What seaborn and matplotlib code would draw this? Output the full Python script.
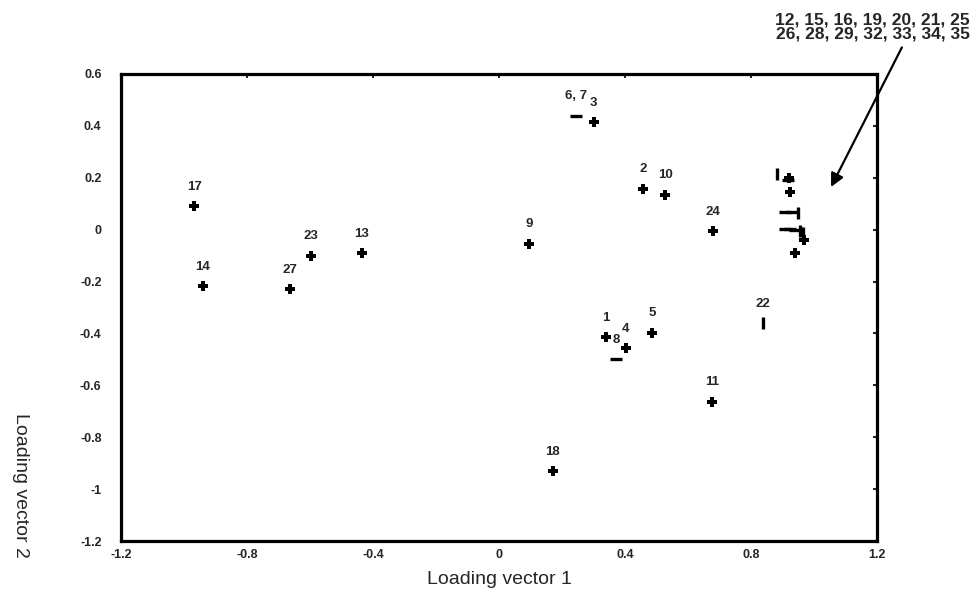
import matplotlib
matplotlib.use('Agg')
import matplotlib.pyplot as plt
import seaborn as sns
import pandas as pd

# Points avec étiquette
point_labels = ['1', '2', '3', '4', '5', '6, 7', '8', '9', '10', '11',
                '13', '14', '17', '18', '22', '23', '24', '27']
point_x = [0.34, 0.457, 0.30, 0.403, 0.486, 0.245, 0.371, 0.095, 0.527, 0.676,
           -0.435, -0.94, -0.968, 0.171, 0.838, -0.597, 0.68, -0.663]
point_y = [-0.415, 0.157, 0.415, -0.456, -0.398, 0.44, -0.50, -0.055, 0.134, -0.664,
           -0.09, -0.217, 0.091, -0.93, -0.36, -0.10, -0.005, -0.229]

# Groupe de points sans étiquette (à droite)
cluster_names = ['12, 15, 16, 19, 20, 21, 25', '26, 28, 29, 32, 33, 34, 35']
cluster_x = [0.882, 0.918, 0.924, 0.908, 0.949, 0.908, 0.94, 0.965, 0.968, 0.94,
             0.92, 0.93, 0.925, 0.955]
cluster_y = [0.214, 0.19, 0.145, 0.068, 0.064, 0.003, 0.0, -0.013, -0.04, -0.09,
             0.20, 0.07, 0.002, -0.005]

xtick_vals = [-1.2, -0.8, -0.4, 0, 0.4, 0.8, 1.2]
ytick_vals = [0.6, 0.4, 0.2, 0, -0.2, -0.4, -0.6, -0.8, -1, -1.2]

# Styles des marqueurs (rendu du scan)
label_shape = {'6, 7': '_', '8': '_', '22': '|'}
cluster_shape = ['|', '_', 'P', '_', '|', '_', '_', '|', 'P', 'P', 'P', '_', '_', '|']

sns.set_style('white')
plt.rcParams['font.family'] = ['Liberation Sans', 'DejaVu Sans']

df = pd.DataFrame({'x': point_x + cluster_x,
                   'y': point_y + cluster_y,
                   'shape': [label_shape.get(l, 'P') for l in point_labels] + cluster_shape})

fig = plt.figure(figsize=(9.77, 6.07), dpi=100)
ax = fig.add_axes([121 / 977, 1 - 541 / 607, 756 / 977, 467 / 607])

for shape, grp in df.groupby('shape'):
    if shape == 'P':
        sns.scatterplot(data=grp, x='x', y='y', marker='P', s=55, color='black',
                        linewidth=0, ax=ax)
    else:
        sns.scatterplot(data=grp, x='x', y='y', marker=shape, s=70, color='black',
                        linewidth=2.4, ax=ax)

for lab, px, py in zip(point_labels, point_x, point_y):
    ax.annotate(lab, (px, py), xytext=(0, 14), textcoords='offset points',
                ha='center', va='center', fontsize=9.5, fontweight='bold')

ax.set_xlim(-1.2, 1.2)
ax.set_ylim(-1.2, 0.6)
ax.set_xticks(xtick_vals)
ax.set_xticklabels([f'{v:g}' for v in xtick_vals])
ax.set_yticks(ytick_vals)
ax.set_yticklabels([f'{v:g}' for v in ytick_vals])
ax.tick_params(direction='in', top=True, right=True, length=3, width=1.5,
               labelsize=9)
ax.tick_params(axis='y', pad=14)
ax.tick_params(axis='x', pad=6)
for t in ax.get_xticklabels() + ax.get_yticklabels():
    t.set_fontweight('bold')
for sp in ax.spines.values():
    sp.set_linewidth(2.3)
    sp.set_color('black')
ax.set_xlabel('')
ax.set_ylabel('')

fig.text(499 / 977, 1 - 580 / 607, 'Loading vector 1', ha='center', va='center',
         fontsize=14)
fig.text(20 / 977, 1 - 485 / 607, 'Loading vector 2', ha='center', va='center',
         fontsize=14, rotation=270)

# Texte et flèche du groupe de droite
fig.text(970 / 977, 1 - 27 / 607, '\n'.join(cluster_names), ha='right', va='center',
         multialignment='right', linespacing=0.85, fontsize=12.5, fontweight='bold')
ax.annotate('', xy=(1.05, 0.155), xytext=(1.283, 0.712),
            arrowprops=dict(arrowstyle='-|>', color='black', lw=1.6,
                            mutation_scale=20),
            annotation_clip=False)

plt.savefig('out.png', dpi=100, facecolor='white')
plt.close()
